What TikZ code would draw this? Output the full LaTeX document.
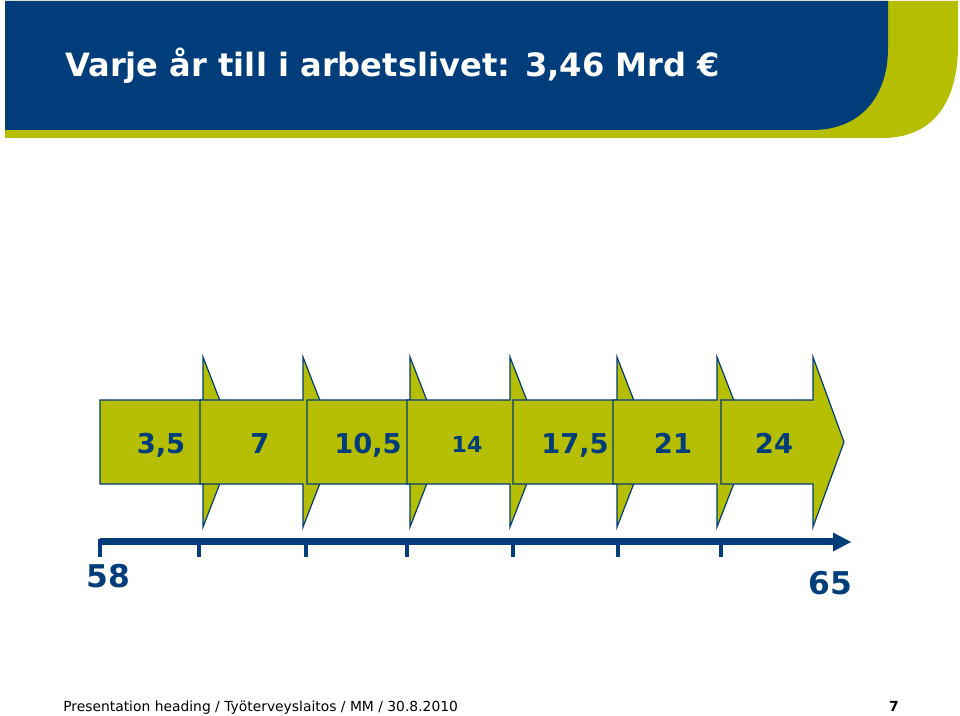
\documentclass[tikz,border=0pt]{standalone}
\usepackage{fontspec}
\setmainfont{DejaVu Sans}
\definecolor{ttlblue}{RGB}{0,61,122}
\definecolor{ttlgreen}{RGB}{181,190,0}
\definecolor{arrgreen}{RGB}{181,190,0}
\begin{document}
\begin{tikzpicture}[x=0.75pt,y=-0.75pt,
  chev/.style={fill=arrgreen,draw=ttlblue,line width=0.9pt,line join=miter},
  lab/.style={text=ttlblue,font=\bfseries\fontsize{20.5}{24}\selectfont,inner sep=0pt,anchor=base},
  labsmall/.style={text=ttlblue,font=\bfseries\fontsize{16.5}{20}\selectfont,inner sep=0pt,anchor=base},
  tick/.style={draw=ttlblue,line width=2.6pt},
  axisnum/.style={text=ttlblue,font=\bfseries\fontsize{23.5}{28}\selectfont,inner sep=0pt,anchor=base}]
\useasboundingbox (0,0) rectangle (960,716);
\fill[white] (0,0) rectangle (960,716);
% header
\fill[ttlgreen] (5,1) -- (958,1) -- (958,45) .. controls (958,100) and (935,138) .. (882,138) -- (5,138) -- cycle;
\fill[ttlblue] (5,1) -- (888,1) -- (888,48) .. controls (888,95) and (862,130) .. (812,130) -- (5,130) -- cycle;
\node[anchor=base west,inner sep=0pt,text=white,font=\bfseries\fontsize{24.1}{28}\selectfont] (title) at (65,77) {Varje år till i arbetslivet: 3,46 Mrd €};
% chevrons
\foreach \L/\H/\h [count=\i] in {100/203/33,200/303/33,307/410/33,407/510/33,513/617/33,613/717/33,721/813/31}{
  \draw[chev] (\L,400) -- (\H,400) -- (\H,357) -- (\H+\h,442) -- (\H,527) -- (\H,484) -- (\L,484) -- cycle;
}
\node[lab] (l1) at (161,453) {3,5};
\node[lab] (l2) at (260,453) {7};
\node[lab] (l3) at (368,453) {10,5};
\node[labsmall] (l4) at (467,452) {14};
\node[lab] (l5) at (575,453) {17,5};
\node[lab] (l6) at (673,453) {21};
\node[lab] (l7) at (774,453) {24};
% timeline
\coordinate (a0) at (100,541.5);
\coordinate (a1) at (834,541.5);
\draw[ttlblue,line width=4.6pt] (a0) -- (a1);
\fill[ttlblue] (833,532.5) -- (851,542) -- (833,551.5) -- cycle;
\draw[tick] (100,538.5) -- (100,557);
\foreach \x in {199,306,407,513,618,721}{
  \draw[tick] (\x,541.5) -- (\x,557);
}
\node[axisnum] (n58) at (108.5,587) {58};
\node[axisnum] (n65) at (830,594) {65};
% footer
\node[anchor=base west,inner sep=0pt,font=\fontsize{10.4}{12}\selectfont] (foot) at (63,711) {Presentation heading / Työterveyslaitos / MM / 30.8.2010};
\node[anchor=base,inner sep=0pt,font=\bfseries\fontsize{10.4}{12}\selectfont] (page) at (894,711) {7};
\end{tikzpicture}
\end{document}
